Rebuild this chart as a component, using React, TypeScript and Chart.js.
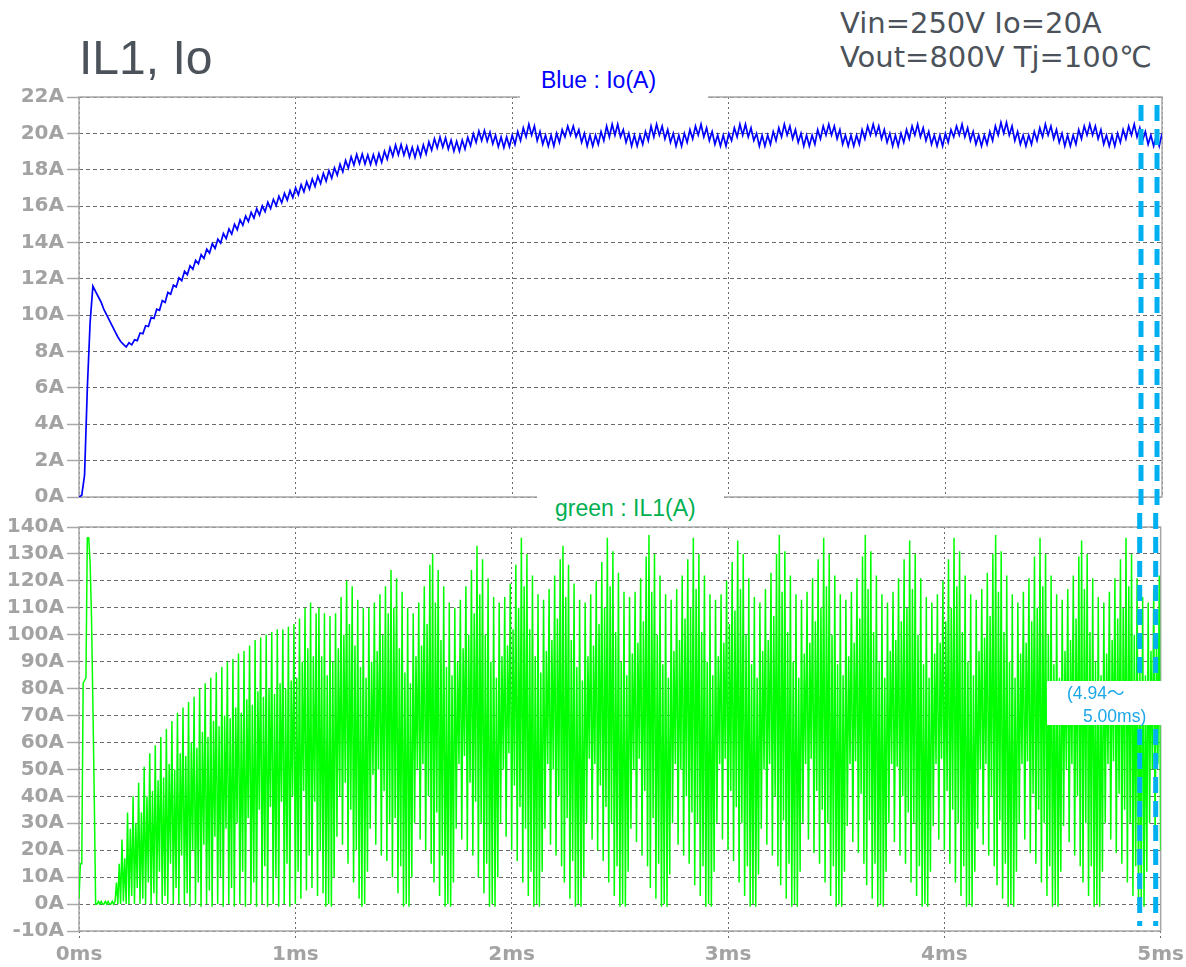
import React, { useEffect, useRef } from "react";
import { Chart, registerables } from "chart.js";

Chart.register(...registerables);

// ---------- axis labels ----------
const timeTickLabels = ["0ms", "1ms", "2ms", "3ms", "4ms", "5ms"];
const ioTickLabels = ["0A", "2A", "4A", "6A", "8A", "10A", "12A", "14A", "16A", "18A", "20A", "22A"];
const il1TickLabels = ["-10A", "0A", "10A", "20A", "30A", "40A", "50A", "60A", "70A", "80A", "90A", "100A", "110A", "120A", "130A", "140A"];
const timeSpanMs = 5;
const cursorTimesMs = [4.903, 4.977];

// ---------- Io (blue), sampled uniformly over 0..5 ms ----------
const ioStart = [0, 0.1, 1.2, 6.0, 9.6, 11.6, 11.3, 11.0, 10.7, 10.3, 10.0, 9.7, 9.4, 9.1, 8.8, 8.55, 8.4, 8.25];
const ioRise = [
  8.48, 8.37, 8.65, 8.6, 9.02, 8.98, 9.42, 9.38, 9.88, 9.82,
  10.33, 10.27, 10.8, 10.7, 11.25, 11.15, 11.65, 11.55, 12.05, 11.9,
  12.42, 12.23, 12.72, 12.53, 13.02, 12.83, 13.33, 13.12, 13.63, 13.42,
  13.93, 13.67, 14.18, 13.97, 14.49, 14.21, 14.74, 14.46, 15.0, 14.7,
  15.25, 14.95, 15.45, 15.15, 15.66, 15.34, 15.86, 15.51, 16.01, 15.69,
  16.21, 15.86, 16.37, 16.03, 16.54, 16.18, 16.7, 16.33, 16.85, 16.47,
  17.01, 16.62, 17.18, 16.79, 17.34, 16.94, 17.49, 17.08, 17.64, 17.24,
  17.8, 17.37, 17.95, 17.53, 18.11, 17.7, 18.31, 17.89, 18.51, 18.09,
  18.71, 18.26, 18.84, 18.34, 18.86, 18.32, 18.81, 18.29, 18.82, 18.31,
  18.89, 18.41, 19.02, 18.58, 19.22, 18.75, 19.36, 18.82, 19.38, 18.8,
  19.3, 18.7, 19.23, 18.67, 19.26, 18.74, 19.36, 18.87, 19.53, 19.07,
  19.7, 19.2, 19.8, 19.24, 19.76, 19.14, 19.63, 19.02, 19.56, 19.02,
  19.63, 19.14, 19.78, 19.32, 19.98, 19.5, 20.13, 19.6, 20.16, 19.57,
  20.06, 19.42, 19.9, 19.27, 19.8, 19.22, 19.8, 19.27, 19.9,
];
const ioSteady = [
  19.4, 20.1, 19.6, 20.3, 19.8, 20.5, 19.9, 20.4, 19.6, 20.1,
  19.4, 19.9, 19.3, 19.9, 19.3, 20.0, 19.5, 20.2, 19.8, 20.4,
  19.9, 20.4, 19.8, 20.2, 19.5, 20.0, 19.3, 19.9, 19.3, 19.9,
  19.4, 20.1, 19.6, 20.4, 19.8, 20.5, 19.9, 20.5, 19.8, 20.2,
  19.5, 20.0, 19.3, 19.9, 19.3, 19.9, 19.4, 20.1, 19.6, 20.4,
  19.8, 20.5, 19.9, 20.4, 19.7, 20.2, 19.5, 20.0, 19.3, 19.9,
  19.3, 20.0, 19.5, 20.2, 19.7, 20.4, 19.9, 20.5, 19.8, 20.3,
  19.6, 20.1, 19.4, 19.9, 19.3, 19.9, 19.3, 20.0, 19.6, 20.3,
  19.8, 20.5, 19.9, 20.5, 19.8, 20.3, 19.6, 20.0, 19.3, 19.9,
  19.3, 19.9, 19.4, 20.1, 19.6, 20.3, 19.8, 20.5, 19.9, 20.4,
  19.7, 20.2, 19.5, 20.0, 19.3, 19.9, 19.3, 19.9, 19.4, 20.2,
  19.7, 20.4, 19.9, 20.5, 19.9, 20.4, 19.7, 20.2, 19.4, 19.9,
  19.3, 19.9, 19.3, 19.9, 19.4, 20.2, 19.7, 20.4, 19.9, 20.5,
  19.9, 20.4, 19.7, 20.2, 19.5, 20.0, 19.3, 19.9, 19.3, 20.0,
  19.5, 20.2, 19.7, 20.4, 19.9, 20.5, 19.8, 20.3, 19.6, 20.1,
  19.4, 19.9, 19.3, 19.9, 19.3, 20.0, 19.5, 20.2, 19.8, 20.4,
  19.9, 20.5, 19.8, 20.3, 19.6, 20.1, 19.4, 19.9, 19.3, 19.9,
  19.4, 20.1, 19.6, 20.4, 19.9, 20.6, 20.0, 20.6, 19.9, 20.4,
  19.6, 20.1, 19.4, 19.9, 19.3, 19.9, 19.4, 20.1, 19.6, 20.3,
  19.8, 20.5, 19.9, 20.4, 19.7, 20.2, 19.5, 20.0, 19.3, 19.9,
  19.3, 19.9, 19.4, 20.2, 19.7, 20.4, 19.9, 20.5, 19.9, 20.4,
  19.7, 20.2, 19.4, 19.9, 19.3, 19.9, 19.3, 20.0, 19.5, 20.2,
  19.7, 20.4, 19.9, 20.5, 19.8, 20.3, 19.6, 20.1, 19.4, 19.9,
  19.3, 19.9, 19.3, 20.0,
];

// ---------- IL1 (green), sampled uniformly over 0..5 ms (peak / trough pairs) ----------
const il1Start = [2, 15, 15, 82, 83, 84, 136, 136, 127, 107, 75, 40, 0, 0, 1, 0, 1, 0, 0, 1, 0, 1, 0, 0, 1, 0, 1];
const il1Rise = [
  8, 0, 15, 0, 24, 1, 17, 0, 34, 0, 28, 3, 40, 0, 30, 6, 45, 0, 34, 2,
  51, 0, 40, 8, 56, 0, 42, 4, 59, 0, 46, 12, 62, 0, 47, 3, 65, 0, 52, 15,
  68, 0, 50, 6, 71, 0, 56, 18, 73, 0, 55, 4, 75, -1, 60, 20, 77, 0, 58, 8,
  80, -1, 64, 22, 82, 0, 62, 5, 84, -1, 68, 25, 86, 0, 66, 10, 88, -1, 70, 28,
  90, 0, 69, 6, 91, -1, 73, 30, 93, 0, 71, 12, 94, -1, 76, 32, 96, 0, 74, 8,
  98, -1, 79, 35, 99, 0, 77, 14, 100, -1, 80, 36, 101, 0, 78, 10, 102, -1, 82, 38,
  102, 0, 80, 15, 103, -1, 83, 40, 104, 0, 84, 12, 106, 2, 90, 42, 110, 5, 95, 18,
  112, 6, 92, 38, 108, 3,
];
const il1SteadyA = [
  110, 20, 92, 4, 108, -1, 85, 0, 107, -1, 90, 10, 108, 25, 95, 40, 114, 22, 100, 45, 120, 15, 104, 35, 118, 8, 96, 20, 113, 2, 88, -1, 110, 0, 84, 12,
  110, 28, 90, 48, 112, 22, 94, 50, 115, 18, 100, 42, 118, 16, 108, 30, 124, 10, 110, 32, 121, 4, 95, 14, 116, -1, 86, 0, 110, -1, 82, 10,
  108, 30, 92, 50, 112, 24, 96, 52, 118, 20, 104, 40, 126, 15, 130, 8, 112, 34, 124, 3, 98, 18, 118, -1, 88, 0, 112, -1, 85, 8,
  110, 28, 90, 52, 113, 24, 95, 55, 118, 20, 100, 45, 124, 18, 108, 38, 133, 10, 115, 30, 128, 4, 100, 15, 121, -1, 90, 0, 114, -1, 84, 10,
  112, 30, 92, 50, 114, 25, 96, 56, 119, 20, 102, 44, 126, 16, 110, 36, 136, 8, 118, 28, 130, 3, 102, 12, 122, -1, 92, 0, 115, -1, 86, 12,
  113, 28, 94, 52, 117, 22, 98, 50, 122, 18, 106, 40, 128, 14, 133, 8, 114, 32, 126, 2, 98, 16, 119, -1, 88, 0, 113, -1, 83, 10,
];
const il1SteadyB = [
  112, 30, 92, 54, 115, 24, 96, 52, 120, 20, 104, 44, 127, 16, 110, 36, 136, 8, 118, 30, 131, 3, 101, 14, 123, -1, 90, 0, 116, -1, 85, 12,
  114, 28, 93, 50, 116, 23, 97, 54, 121, 18, 105, 42, 129, 14, 137, 6, 116, 32, 130, 2, 100, 15, 122, -1, 89, 0, 115, -1, 84, 11, 113, 30,
  94, 52, 117, 22, 98, 50, 122, 18, 106, 40, 128, 15, 110, 34, 136, 7, 117, 30, 130, 3, 101, 14, 122, -1, 90, 0, 115, -1, 85, 12,
  113, 30, 92, 52, 115, 24, 97, 54, 120, 20, 104, 42, 127, 16, 109, 36, 135, 8, 117, 30, 130, 3, 100, 14, 121, -1, 89, 0, 114, -1, 84, 11,
  112, 28, 94, 50, 117, 22, 98, 52, 123, 18, 107, 40, 130, 14, 137, 7, 116, 31, 131, 2, 101, 15, 122, -1, 90, 0, 115, -1, 84, 12, 113, 30,
  93, 52, 116, 24, 97, 54, 121, 19, 105, 42, 128, 15, 110, 35, 136, 8, 118, 30, 130, 3, 100, 14, 122, -1, 89, 0, 115, -1, 85, 12,
];
const il1SteadyC = [
  113, 29, 92, 52, 116, 23, 97, 53, 121, 19, 106, 41, 129, 15, 137, 7, 117, 31, 131, 2, 101, 15, 122, -1, 90, 0, 115, -1, 84, 12, 112, 30,
  94, 52, 116, 23, 98, 51, 121, 18, 105, 40, 128, 15, 110, 34, 135, 8, 117, 30, 130, 3, 100, 14, 121, -1, 89, 0, 114, -1, 84, 12,
  112, 29, 93, 52, 115, 24, 97, 54, 120, 20, 105, 42, 128, 15, 110, 35, 136, 8, 118, 30, 131, 3, 101, 14, 122, -1, 90, 0, 115, -1, 85, 12,
  113, 28, 94, 50, 117, 22, 99, 52, 123, 18, 107, 40, 130, 14, 137, 7, 116, 31, 131, 2, 101, 15, 122, -1, 90, 0, 115, -1, 84, 12,
  112, 30, 93, 52, 116, 24, 97, 53, 121, 19, 105, 41, 129, 15, 110, 35, 136, 8, 118, 30, 130, 3, 100, 14, 122, -1, 89, 0, 115, -1, 84, 12,
  113, 29, 94, 50, 117, 23, 98, 52, 122, 18, 106, 40, 129, 14, 135, 8, 117, 30, 130, 3, 101, 14, 121, -1, 90, 0, 114, -1, 85, 12, 112, 30,
  93, 52, 116, 24, 98, 53, 121, 19, 106, 41, 128, 15, 110, 35, 136, 8, 118, 30, 130, 3, 100, 14, 121, -1, 89, 0, 114, -1, 85, 12, 112, 30,
  94, 50, 117, 24, 98, 52, 122, 20,
];

const ioValues = [...ioStart, ...ioRise, ...ioSteady];
const il1Values = [...il1Start, ...il1Rise, ...il1SteadyA, ...il1SteadyB, ...il1SteadyC];

function toPoints(values: number[]) {
  const step = timeSpanMs / (values.length - 1);
  return values.map((v, i) => ({ x: i * step, y: v }));
}

const TICK_FONT = { family: "'DejaVu Sans', sans-serif", size: 20, weight: "bold" as const };
const TICK_COLOR = "#a3a3a3";
const GRID_COLOR = "#6a6a6a";
const FRAME_COLOR = "#a8a8a8";

const framePlugin = {
  id: "frame",
  beforeDatasetsDraw(chart: any) {
    const { ctx, chartArea } = chart;
    const { left, top, right, bottom } = chartArea;
    ctx.save();
    ctx.strokeStyle = FRAME_COLOR;
    ctx.lineWidth = 1.5;
    ctx.setLineDash([]);
    ctx.strokeRect(left, top, right - left, bottom - top);
    ctx.restore();
  },
};

function makeCursorPlugin(kind: "top" | "bottom", dashOffset: number) {
  return {
    id: "cursors",
    afterDatasetsDraw(chart: any) {
      const { ctx, chartArea } = chart;
      const xScale = chart.scales.x;
      const y0 = kind === "top" ? chartArea.top + 8 : 0;
      const y1 = kind === "top" ? chart.height : chartArea.bottom - 5;
      ctx.save();
      ctx.strokeStyle = "#00b0f0";
      ctx.lineWidth = 5;
      ctx.setLineDash([16, 8]);
      ctx.lineDashOffset = dashOffset;
      for (const t of cursorTimesMs) {
        const px = xScale.getPixelForValue(t);
        ctx.beginPath();
        ctx.moveTo(px, y0);
        ctx.lineTo(px, y1);
        ctx.stroke();
      }
      ctx.restore();
    },
  };
}

function panelConfig(opts: {
  values: number[];
  color: string;
  width: number;
  yMin: number;
  yMax: number;
  yStep: number;
  yLabels: string[];
  showX: boolean;
  xHeight: number;
  padTop: number;
  cursor: any;
}): any {
  return {
    type: "line",
    data: {
      datasets: [
        {
          data: toPoints(opts.values),
          borderColor: opts.color,
          borderWidth: opts.width,
          pointRadius: 0,
          tension: 0,
          fill: false,
        },
      ],
    },
    options: {
      animation: false,
      responsive: false,
      parsing: false,
      normalized: true,
      events: [],
      layout: { padding: { top: opts.padTop, right: 24, left: 0, bottom: 0 } },
      plugins: { legend: { display: false }, tooltip: { enabled: false }, title: { display: false } },
      scales: {
        x: {
          type: "linear",
          min: 0,
          max: timeSpanMs,
          ticks: {
            stepSize: 1,
            autoSkip: false,
            maxRotation: 0,
            display: opts.showX,
            font: TICK_FONT,
            color: TICK_COLOR,
            padding: 2,
            callback: (v: number) => timeTickLabels[Math.round(v)] ?? "",
          },
          grid: {
            color: GRID_COLOR,
            lineWidth: 1,
            drawTicks: opts.showX,
            tickLength: 10,
            tickColor: GRID_COLOR,
            tickWidth: 1,
            tickBorderDash: [2, 3],
          },
          border: { display: false, dash: [2, 3] },
          afterFit: (s: any) => {
            s.height = opts.xHeight;
          },
        },
        y: {
          type: "linear",
          min: opts.yMin,
          max: opts.yMax,
          ticks: {
            stepSize: opts.yStep,
            autoSkip: false,
            maxTicksLimit: 100,
            font: TICK_FONT,
            color: TICK_COLOR,
            padding: 3,
            callback: (_v: number, i: number) => opts.yLabels[i] ?? "",
          },
          grid: {
            color: GRID_COLOR,
            lineWidth: 1,
            drawTicks: true,
            tickLength: 12,
            tickColor: FRAME_COLOR,
            tickWidth: 1.5,
            tickBorderDash: [],
          },
          border: { display: false, dash: [4, 3] },
          afterFit: (s: any) => {
            s.width = 79;
          },
        },
      },
    },
    plugins: [framePlugin, opts.cursor],
  };
}

export default function App() {
  const topRef = useRef<HTMLCanvasElement>(null);
  const botRef = useRef<HTMLCanvasElement>(null);

  useEffect(() => {
    document.body.style.margin = "0";
    const top = new Chart(
      topRef.current as HTMLCanvasElement,
      panelConfig({
        values: ioValues,
        color: "#0000ff",
        width: 1.7,
        yMin: 0,
        yMax: 22,
        yStep: 2,
        yLabels: ioTickLabels,
        showX: false,
        xHeight: 14,
        padTop: 17,
        cursor: makeCursorPlugin("top", 0),
      })
    );
    const bottom = new Chart(
      botRef.current as HTMLCanvasElement,
      panelConfig({
        values: il1Values,
        color: "#00ff00",
        width: 1.5,
        yMin: -10,
        yMax: 140,
        yStep: 10,
        yLabels: il1TickLabels,
        showX: true,
        xHeight: 36,
        padTop: 15,
        cursor: makeCursorPlugin("bottom", 407),
      })
    );
    return () => {
      top.destroy();
      bottom.destroy();
    };
  }, []);

  const sans = '"Liberation Sans", Arial, "Noto Sans CJK JP", sans-serif';

  return (
    <div
      style={{
        position: "absolute",
        left: 0,
        top: 0,
        width: 1186,
        height: 967,
        background: "#ffffff",
        overflow: "hidden",
      }}
    >
      <canvas
        ref={topRef}
        width={1186}
        height={432}
        style={{ position: "absolute", left: 0, top: 80, width: 1186, height: 432 }}
      />
      <canvas
        ref={botRef}
        width={1186}
        height={455}
        style={{ position: "absolute", left: 0, top: 512, width: 1186, height: 455 }}
      />
      <div
        style={{
          position: "absolute",
          left: 79,
          top: 34,
          fontFamily: sans,
          fontSize: 48,
          lineHeight: "48px",
          color: "#4b525a",
          whiteSpace: "nowrap",
        }}
      >
        IL1, Io
      </div>
      <div
        style={{
          position: "absolute",
          left: 840,
          top: 6,
          fontFamily: '"DejaVu Sans", sans-serif',
          fontSize: 29,
          lineHeight: "34px",
          color: "#4b525a",
          whiteSpace: "pre",
        }}
      >
        {"Vin=250V Io=20A\nVout=800V Tj=100℃"}
      </div>
      <div
        style={{
          position: "absolute",
          left: 520,
          top: 62,
          width: 188,
          height: 36,
          background: "#ffffff",
        }}
      >
        <div
          style={{
            paddingTop: 5,
            paddingLeft: 21,
            fontFamily: sans,
            fontSize: 23,
            lineHeight: "26px",
            color: "#0000ff",
            whiteSpace: "nowrap",
          }}
        >
          Blue : Io(A)
        </div>
      </div>
      <div
        style={{
          position: "absolute",
          left: 537,
          top: 488,
          width: 187,
          height: 37,
          background: "#ffffff",
        }}
      >
        <div
          style={{
            paddingTop: 6.7,
            paddingLeft: 18,
            fontFamily: sans,
            fontSize: 23,
            lineHeight: "26px",
            color: "#00b050",
            whiteSpace: "nowrap",
          }}
        >
          green : IL1(A)
        </div>
      </div>
      <div
        style={{
          position: "absolute",
          left: 1047,
          top: 681,
          width: 116,
          height: 44,
          background: "#ffffff",
        }}
      />
      <div
        style={{
          position: "absolute",
          left: 1067,
          top: 683,
          fontFamily: sans,
          fontSize: 17.5,
          lineHeight: "20px",
          color: "#1aa7e8",
          whiteSpace: "nowrap",
        }}
      >
        (4.94～
      </div>
      <div
        style={{
          position: "absolute",
          left: 1083,
          top: 705.7,
          fontFamily: sans,
          fontSize: 17.5,
          lineHeight: "20px",
          color: "#1aa7e8",
          whiteSpace: "nowrap",
        }}
      >
        5.00ms)
      </div>
    </div>
  );
}
